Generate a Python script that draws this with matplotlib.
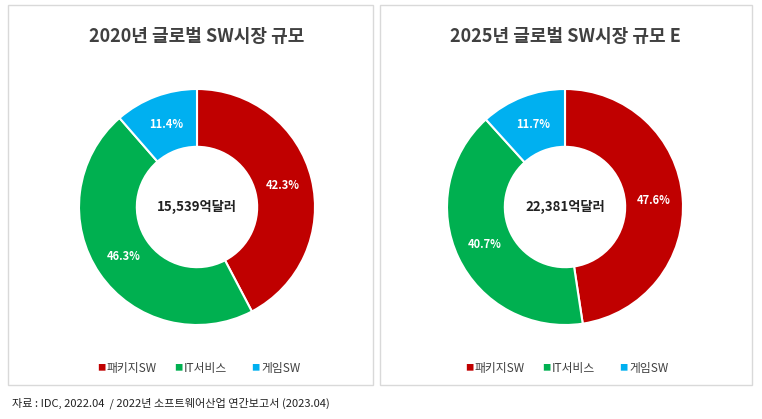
import matplotlib.pyplot as plt
import matplotlib.patches as pa
import numpy as np

plt.rcParams['font.family'] = 'Noto Sans CJK KR'

labels = ['패키지SW', 'IT서비스', '게임SW']
colors = ['#C00000', '#00B050', '#00B0F0']
titles = ['2020년 글로벌 SW시장 규모', '2025년 글로벌 SW시장 규모 E']
centers = ['15,539억달러', '22,381억달러']
shares_2020 = [42.3, 46.3, 11.4]
shares_2025 = [47.6, 40.7, 11.7]
source = '자료 : IDC, 2022.04  / 2022년 소프트웨어산업 연간보고서 (2023.04)'

W, H = 762, 419
fig = plt.figure(figsize=(W / 100, H / 100), dpi=100)

# panel borders
for x0, x1 in [(8, 373), (380, 752)]:
    fig.add_artist(pa.Rectangle((x0 / W, 1 - 385 / H), (x1 - x0) / W, 380 / H,
                                transform=fig.transFigure, fill=False,
                                edgecolor='#D9D9D9', lw=1))

for i, vals in enumerate([shares_2020, shares_2025]):
    cx = [197, 565][i]
    r = 118
    ax = fig.add_axes([(cx - r) / W, 1 - (207 + r) / H, 2 * r / W, 2 * r / H])
    ax.pie(vals, colors=colors, startangle=90, counterclock=False,
           wedgeprops=dict(width=0.49, edgecolor='white', linewidth=1.5))
    ang0 = 90
    for v in vals:
        mid = np.deg2rad(ang0 - v * 3.6 / 2)
        ax.text(0.75 * np.cos(mid), 0.75 * np.sin(mid), f'{v}%', color='white',
                ha='center', va='center', fontsize=8, fontweight='bold')
        ang0 -= v * 3.6
    ax.text(0, 0, centers[i], ha='center', va='center', fontsize=9.5, fontweight='bold', color='#222222')
    ax.set_xlim(-1, 1)
    ax.set_ylim(-1, 1)
    ax.set_aspect('equal')
    fig.text(cx / W, 1 - 37 / H, titles[i], ha='center', va='center',
             fontsize=13, fontweight='bold', color='#404040')
    # legend
    lx = cx - 100
    for lab, c in zip(labels, colors):
        fig.text(lx / W, 1 - 368 / H, '■', color=c, fontsize=6, va='center')
        fig.text((lx + 10) / W, 1 - 368 / H, lab, color='#404040', fontsize=8.5, va='center')
        lx += 10 + len(lab) * 9 + 22

fig.text(12 / W, 1 - 403 / H, source, fontsize=8, color='#222222', va='center')
fig.savefig('out.png', dpi=100, facecolor='white')
